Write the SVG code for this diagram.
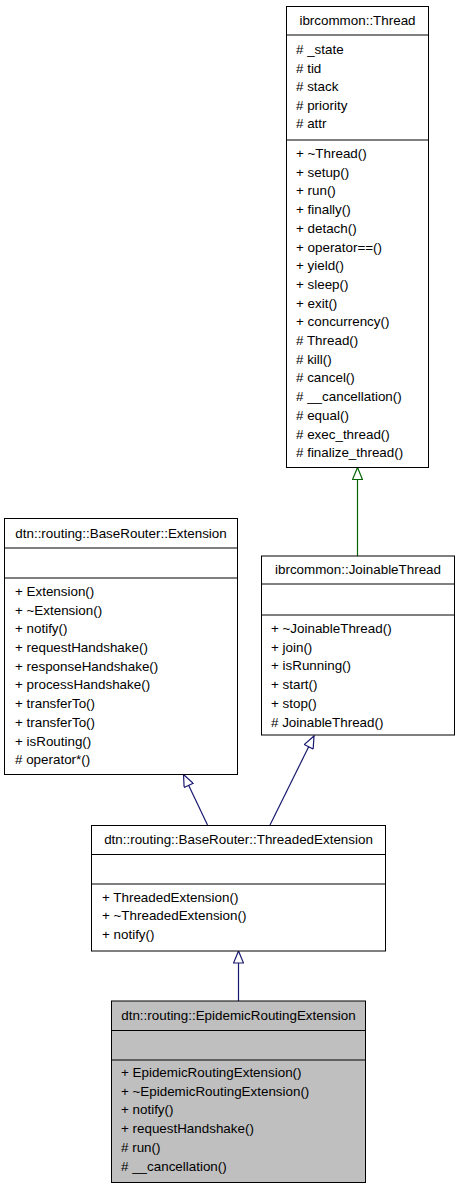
<svg xmlns="http://www.w3.org/2000/svg" width="459" height="1189" viewBox="0 0 459 1189">
<style>
text{font-family:"Liberation Sans",Arial,sans-serif;font-size:13.4px;fill:#000}
.t{text-anchor:middle}
.box{fill:#fff;stroke:#000;stroke-width:1}
.cur{fill:#bfbfbf;stroke:#000;stroke-width:1}
.sep{stroke:#000;stroke-width:1}
.pub{stroke:#191970;stroke-width:1.2;fill:none;marker-end:url(#ab)}
.prot{stroke:#006400;stroke-width:1.2;fill:none;marker-end:url(#ag)}
</style>
<defs>
<marker id="ab" viewBox="0 0 14 11" refX="13" refY="5.5" markerUnits="userSpaceOnUse" markerWidth="14" markerHeight="11" orient="auto">
<path d="M1,0.5 L13,5.5 L1,10.5 z" fill="#fff" stroke="#191970" stroke-width="1.2"/>
</marker>
<marker id="ag" viewBox="0 0 14 11" refX="13" refY="5.5" markerUnits="userSpaceOnUse" markerWidth="14" markerHeight="11" orient="auto">
<path d="M1,0.5 L13,5.5 L1,10.5 z" fill="#fff" stroke="#006400" stroke-width="1.2"/>
</marker>
</defs>
<g id="connectors">
<path class="prot" d="M357.5,556 L357.5,467.5"/>
<path class="pub" d="M207.5,825 L183.5,774.5"/>
<path class="pub" d="M270,825 L314,736"/>
<path class="pub" d="M238.5,1001 L238.5,951"/>
</g>
<g id="node-thread">
<rect class="box" x="286.5" y="6.5" width="142" height="461"/>
<line class="sep" x1="286.5" y1="35" x2="428.5" y2="35"/>
<line class="sep" x1="286.5" y1="140" x2="428.5" y2="140"/>
<text class="t" x="357.5" y="25">ibrcommon::Thread</text>
<text x="296" y="54">#  _state</text>
<text x="296" y="72.5">#  tid</text>
<text x="296" y="91">#  stack</text>
<text x="296" y="109.5">#  priority</text>
<text x="296" y="128">#  attr</text>
<text x="296" y="158">+  ~Thread()</text>
<text x="296" y="176.7">+  setup()</text>
<text x="296" y="195.4">+  run()</text>
<text x="296" y="214.1">+  finally()</text>
<text x="296" y="232.8">+  detach()</text>
<text x="296" y="251.5">+  operator==()</text>
<text x="296" y="270.2">+  yield()</text>
<text x="296" y="288.9">+  sleep()</text>
<text x="296" y="307.6">+  exit()</text>
<text x="296" y="326.3">+  concurrency()</text>
<text x="296" y="345">#  Thread()</text>
<text x="296" y="363.7">#  kill()</text>
<text x="296" y="382.4">#  cancel()</text>
<text x="296" y="401.1">#  __cancellation()</text>
<text x="296" y="419.8">#  equal()</text>
<text x="296" y="438.5">#  exec_thread()</text>
<text x="296" y="457.2">#  finalize_thread()</text>
</g>
<g id="node-extension">
<rect class="box" x="4.5" y="518.5" width="233" height="256"/>
<line class="sep" x1="4.5" y1="548" x2="237.5" y2="548"/>
<line class="sep" x1="4.5" y1="578" x2="237.5" y2="578"/>
<text class="t" x="121" y="538">dtn::routing::BaseRouter::Extension</text>
<text x="15" y="596">+  Extension()</text>
<text x="15" y="614.6">+  ~Extension()</text>
<text x="15" y="633.3">+  notify()</text>
<text x="15" y="652">+  requestHandshake()</text>
<text x="15" y="670.7">+  responseHandshake()</text>
<text x="15" y="689.4">+  processHandshake()</text>
<text x="15" y="708.1">+  transferTo()</text>
<text x="15" y="726.8">+  transferTo()</text>
<text x="15" y="745.5">+  isRouting()</text>
<text x="15" y="764.2">#  operator*()</text>
</g>
<g id="node-joinable">
<rect class="box" x="261.5" y="556" width="193" height="179"/>
<line class="sep" x1="261.5" y1="584" x2="454.5" y2="584"/>
<line class="sep" x1="261.5" y1="615" x2="454.5" y2="615"/>
<text class="t" x="358" y="574">ibrcommon::JoinableThread</text>
<text x="271" y="633">+  ~JoinableThread()</text>
<text x="271" y="651.7">+  join()</text>
<text x="271" y="670.4">+  isRunning()</text>
<text x="271" y="689.1">+  start()</text>
<text x="271" y="707.8">+  stop()</text>
<text x="271" y="726.5">#  JoinableThread()</text>
</g>
<g id="node-threaded">
<rect class="box" x="91.5" y="825.5" width="294" height="125.5"/>
<line class="sep" x1="91.5" y1="854.5" x2="385.5" y2="854.5"/>
<line class="sep" x1="91.5" y1="884" x2="385.5" y2="884"/>
<text class="t" x="238.5" y="844">dtn::routing::BaseRouter::ThreadedExtension</text>
<text x="102" y="901.5">+  ThreadedExtension()</text>
<text x="102" y="920.2">+  ~ThreadedExtension()</text>
<text x="102" y="938.9">+  notify()</text>
</g>
<g id="node-epidemic">
<rect class="cur" x="111.5" y="1001" width="254" height="181.5"/>
<line class="sep" x1="111.5" y1="1030.5" x2="365.5" y2="1030.5"/>
<line class="sep" x1="111.5" y1="1060" x2="365.5" y2="1060"/>
<text class="t" x="238.5" y="1020">dtn::routing::EpidemicRoutingExtension</text>
<text x="121" y="1077">+  EpidemicRoutingExtension()</text>
<text x="121" y="1095.7">+  ~EpidemicRoutingExtension()</text>
<text x="121" y="1114.4">+  notify()</text>
<text x="121" y="1133.1">+  requestHandshake()</text>
<text x="121" y="1151.8">#  run()</text>
<text x="121" y="1170.5">#  __cancellation()</text>
</g>
</svg>
